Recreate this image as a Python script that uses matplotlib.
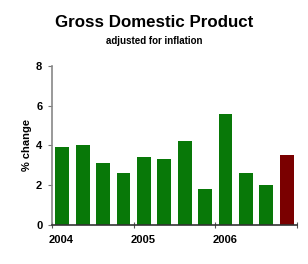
import matplotlib
matplotlib.use("Agg")
import matplotlib.pyplot as plt

# quarterly real GDP growth, 2004 Q1 .. 2006 Q4
values = [3.9, 4.0, 3.1, 2.6, 3.4, 3.3, 4.2, 1.8, 5.6, 2.6, 2.0, 3.5]
colors = ["#087808"] * 11 + ["#7a0000"]
years = ["2004", "2005", "2006"]
yticks = [0, 2, 4, 6, 8]

plt.rcParams["font.family"] = ["Liberation Sans", "DejaVu Sans"]

fig = plt.figure(figsize=(3.08, 2.64), dpi=100)
ax = fig.add_axes([0.169, 0.148, 0.795, 0.602])

x = [i + 0.5 for i in range(len(values))]
ax.bar(x, values, width=0.68, color=colors, zorder=2)

ax.set_xlim(0, 12)
ax.set_ylim(0, 8)
ax.set_yticks(yticks)
ax.set_yticklabels([str(t) for t in yticks], fontsize=8, fontweight="bold")
ax.set_xticks([0, 4, 8, 12])
ax.set_xticklabels([])
ax.tick_params(axis="x", direction="inout", length=4, color="#555555")
ax.tick_params(axis="y", direction="out", length=3, color="#777777", pad=4)

for i, yr in enumerate(years):
    ax.text(i * 4 - 0.15, -0.5, yr, ha="left", va="top",
            fontsize=8, fontweight="bold")

for s in ["top", "right"]:
    ax.spines[s].set_visible(False)
ax.spines["left"].set_color("#888888")
ax.spines["left"].set_linewidth(1.2)
ax.spines["bottom"].set_color("#333333")
ax.spines["bottom"].set_linewidth(1.2)

ax.set_ylabel("% change", fontsize=8, fontweight="bold", labelpad=3)

fig.text(0.5, 0.915, "Gross Domestic Product", ha="center", va="center",
         fontsize=12.2, fontweight="bold")
fig.text(0.5, 0.845, "adjusted for inflation", ha="center", va="center",
         fontsize=7, fontweight="bold")

fig.savefig("out.png", dpi=100)
